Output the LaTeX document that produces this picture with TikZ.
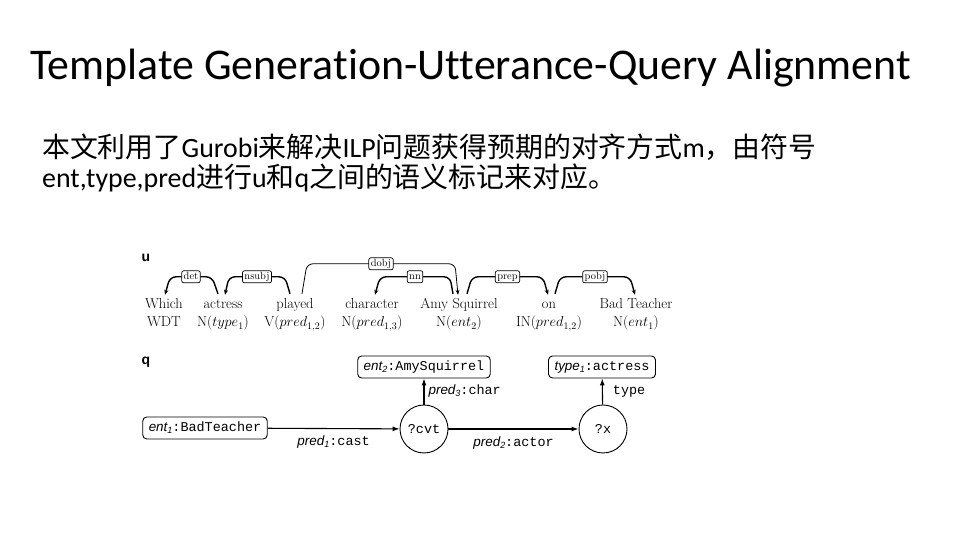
\documentclass[tikz,border=0pt]{standalone}
\usepackage[no-math]{fontspec}
\setmainfont{Carlito}[Ligatures=NoCommon]
\newfontfamily\cjk{Noto Sans CJK SC}
\newfontfamily\lmr{Latin Modern Roman}
\newfontfamily\qmono{Liberation Mono}
\newfontfamily\qsans{Liberation Sans}
\usetikzlibrary{calc, arrows.meta, positioning}

% italic sans name with a small subscript, as in the query graph
\newcommand{\qsub}[2]{{\qsans\itshape #1\raisebox{-2bp}{\fontsize{9}{9}\selectfont #2}}}

\begin{document}
\begin{tikzpicture}[
    x=1bp, y=1bp,
    every node/.style={inner sep=0},
    word/.style={font=\lmr\fontsize{14.5}{16}\selectfont, anchor=base,
                 text height=10bp, text depth=3bp, inner ysep=4bp},
    deplab/.style={draw, rounded corners=2bp, fill=white, line width=0.7bp,
                   font=\lmr\fontsize{10.5}{11}\selectfont,
                   text height=7bp, text depth=2bp,
                   inner xsep=2bp, inner ysep=1.5bp},
    deparc/.style={line width=1.4bp, rounded corners=6bp,
                   -{Stealth[length=5bp, width=4bp]}},
    qbox/.style={draw, rounded corners=4bp, line width=0.9bp,
                 minimum height=22bp, inner xsep=6bp,
                 font=\qmono\fontsize{13.5}{14}\selectfont},
    qvar/.style={draw, circle, line width=0.9bp, minimum size=48bp,
                 font=\qmono\fontsize{13.5}{14}\selectfont},
    qedge/.style={line width=1.1bp, -{Latex[length=7bp, width=5bp]}},
    qlab/.style={font=\qmono\fontsize{13.5}{14}\selectfont},
]
  \useasboundingbox (0,0) rectangle (960,540);
  \fill[white] (0,0) rectangle (960,540);

  % title and text
  \node[anchor=base west, font=\fontsize{44}{48}\selectfont] (title)
        at (30,460) {Template Generation-Utterance-Query Alignment};
  \node[anchor=base west, font=\fontsize{28}{30}\selectfont] (line1)
        at (42,382) {{\cjk 本文利用了}Gurobi{\cjk 来解决}ILP{\cjk 问题获得预期的对齐方式}m{\cjk ，由符号}};
  \node[anchor=base west, font=\fontsize{28}{30}\selectfont] (line2)
        at (42,352) {ent,type,pred{\cjk 进行}u{\cjk 和}q{\cjk 之间的语义标记来对应。}};

  % utterance u
  \node[font=\qsans\bfseries\fontsize{14}{14}\selectfont] (ulab) at (146,282) {u};
  \node[word] (which)  at (164,231) {Which};
  \node[word] (actress) at (223,231) {actress};
  \node[word] (played) at (295,231) {played};
  \node[word] (character) at (372,231) {character};
  \node[word] (amy)    at (459,231) {Amy Squirrel};
  \node[word] (on)     at (549,231) {on};
  \node[word] (bad)    at (636,231) {Bad Teacher};

  \node[word] (whichT)  at (164,213) {WDT};
  \node[word] (actressT) at (223,213) {N($type_1$)};
  \node[word] (playedT) at (295,213) {V($pred_{1,2}$)};
  \node[word] (characterT) at (372,213) {N($pred_{1,3}$)};
  \node[word] (amyT)    at (459,213) {N($ent_2$)};
  \node[word] (onT)     at (549,213) {IN($pred_{1,2}$)};
  \node[word] (badT)    at (636,213) {N($ent_1$)};

  \draw[deparc] ($(actress.north)+(-5,1)$) -- ($(actress.north)+(-11,18)$)
        -- node[deplab] {det} ($(which.north)+(6,18)$) -- ($(which.north)+(1,0)$);
  \draw[deparc] ($(played.north)+(-5,1)$) -- ($(played.north)+(-10,18)$)
        -- node[deplab] {nsubj} ($(actress.north)+(6,18)$) -- ($(actress.north)+(2,0)$);
  \draw[deparc, line width=0.8bp] ($(played.north)+(7,1)$) -- ($(played.north)+(12,31)$)
        -- node[deplab] {dobj} ($(amy.north)+(-4,31)$) -- ($(amy.north)+(-1,0)$);
  \draw[deparc] ($(amy.north)+(-6,1)$) -- ($(amy.north)+(-9,18)$)
        -- node[deplab] {nn} ($(character.north)+(8,18)$) -- ($(character.north)+(3,0)$);
  \draw[deparc] ($(amy.north)+(8,1)$) -- ($(amy.north)+(13,18)$)
        -- node[deplab] {prep} ($(on.north)+(-6,18)$) -- ($(on.north)+(-1,0)$);
  \draw[deparc] ($(on.north)+(6,1)$) -- ($(on.north)+(11,18)$)
        -- node[deplab] {pobj} ($(bad.north)+(-6,18)$) -- ($(bad.north)+(-1,0)$);

  % query q
  \node[font=\qsans\bfseries\fontsize{14}{14}\selectfont] (qlab) at (146,178) {q};
  \node[qbox] (ent1) at (205,112) {\qsub{ent}{1}:BadTeacher};
  \node[qvar] (cvt) at (424,111) {?cvt};
  \node[qvar] (x) at (603,111) {?x};
  \node[qbox] (ent2) at (424,173) {\qsub{ent}{2}:AmySquirrel};
  \node[qbox] (type1) at (602,173) {\qsub{type}{1}:actress};

  \draw[qedge] (ent1) -- node[qlab, below=7bp] {\qsub{pred}{1}:cast} (cvt);
  \draw[qedge] (cvt) -- node[qlab, below=7bp] {\qsub{pred}{2}:actor} (x);
  \draw[qedge] (cvt) -- node[qlab, right=4bp] {\qsub{pred}{3}:char} (ent2);
  \draw[qedge] (x) -- node[qlab, right=10bp] {type} (type1);
\end{tikzpicture}
\end{document}
